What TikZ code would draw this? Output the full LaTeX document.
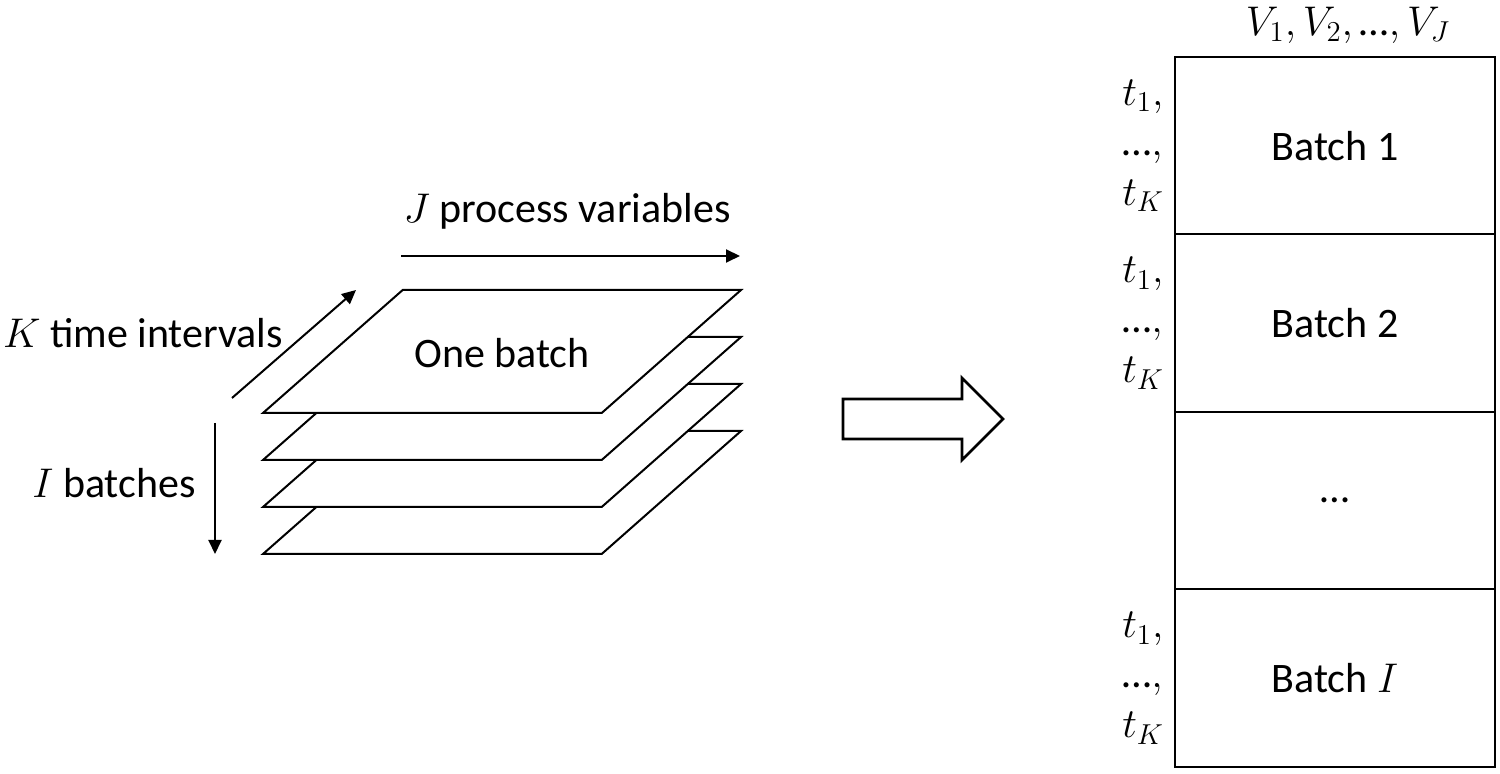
\documentclass[tikz,border=0pt]{standalone}
\usepackage{fontspec}
\setmainfont{Carlito}
\usetikzlibrary{arrows.meta}

% tight ellipsis taken from the text font
\newcommand{\tdots}{\mbox{…}}

\begin{document}
\begin{tikzpicture}[x=0.5pt, y=-0.5pt, line width=1pt,
    every node/.style={font=\fontsize{21}{25}\selectfont},
    axis/.style={-{Triangle[length=7pt, width=6.5pt]}},
    rowbox/.style={draw, minimum width=160pt, minimum height=88.75pt, inner sep=0pt, outer sep=0pt}]
    \useasboundingbox (0,0) rectangle (1500,774);

    % D = vertical step between stacked batch layers
    \def\D{47}

    % Macro for one batch layer (parallelogram), shifted down by #1
    \newcommand{\batchlayer}[1]{
        \filldraw[fill=white, draw=black]
            (402.7, {290 + #1}) --
            (741, {290 + #1}) --
            (601.7, {413 + #1}) --
            (263, {413 + #1}) -- cycle;
    }

    % Layers from the bottom up, so the upper ones hide the lower ones
    \foreach \i in {3,2,1,0} {
        \batchlayer{\i*\D}
    }
    \node (onebatch) at (502, 353) {One batch};

    % Axis arrows and their labels
    \coordinate (j0) at (401, 256);
    \coordinate (j1) at (740, 256);
    \coordinate (k0) at (232, 398);
    \coordinate (k1) at (356, 290);
    \coordinate (i0) at (215, 423);
    \coordinate (i1) at (215, 554);
    \draw[axis] (j0) -- (j1);
    \draw[axis] (k0) -- (k1);
    \draw[axis] (i0) -- (i1);
    \node (jlabel) at (567, 211) {$J$ process variables};
    \node (klabel) at (143, 333) {$K$ time intervals};
    \node (ilabel) at (114, 483) {$I$ batches};

    % Block arrow
    \draw[line width=1.4pt] (843, 399) -- (962, 399) -- (962, 378) -- (1003, 419) --
        (962, 460) -- (962, 439) -- (843, 439) -- cycle;

    % Unfolded matrix, one row block per batch
    \foreach \top/\txt [count=\r] in {57/{Batch 1}, 234.5/{Batch 2}, 412/{…}, 589.5/{Batch $I$}} {
        \node[rowbox] (row\r) at (1335, \top + 88.75) {\raisebox{-2pt}{\txt}};
    }
    \foreach \r in {1,2,4} {
        \node[anchor=east, align=left, inner sep=0pt] (tlab\r) at ([xshift=-5pt]row\r.west)
            {$t_1,$\\$\tdots,$\\$t_K$};
    }
    \node (vars) at (1348, 25) {$V_1, V_2, \tdots, V_J$};
\end{tikzpicture}
\end{document}
